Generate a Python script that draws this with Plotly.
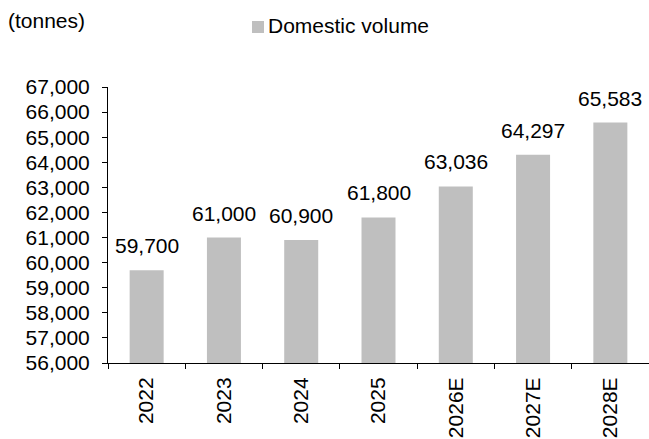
import plotly.graph_objects as go

categories = ["2022", "2023", "2024", "2025", "2026E", "2027E", "2028E"]
values = [59700, 61000, 60900, 61800, 63036, 64297, 65583]
labels = ["59,700", "61,000", "60,900", "61,800", "63,036", "64,297", "65,583"]
series_name = "Domestic volume"
unit_label = "(tonnes)"

FONT = "Liberation Sans, Arial, sans-serif"
FS = 21
BAR_COLOR = "#bfbfbf"

fig = go.Figure()
fig.add_trace(go.Bar(
    x=categories, y=values, name=series_name,
    marker=dict(color=BAR_COLOR, line=dict(width=0)),
    showlegend=False,
))

# data labels: placed at each category index (category axis positions)
annotations = [
    dict(x=i, y=v, text=t, xref="x", yref="y", xanchor="center", yanchor="bottom",
         yshift=11, showarrow=False, font=dict(size=FS, color="black", family=FONT))
    for i, (v, t) in enumerate(zip(values, labels))
]

# plot area: x 108..649, y 87..363
def px(xp):
    return (xp - 108) / 541.0

def py(yp):
    return (363 - yp) / 276.0

annotations.append(dict(text=unit_label, xref="paper", yref="paper", x=px(6), y=py(20),
                        xanchor="left", yanchor="middle", showarrow=False,
                        font=dict(size=FS, family=FONT, color="black")))
annotations.append(dict(text=series_name, xref="paper", yref="paper", x=px(266), y=py(26),
                        xanchor="left", yanchor="middle", showarrow=False,
                        font=dict(size=FS, family=FONT, color="black")))

fig.update_layout(
    width=649, height=439,
    margin=dict(l=108, r=0, t=87, b=76),
    paper_bgcolor="white", plot_bgcolor="white",
    font=dict(family=FONT, size=FS, color="black"),
    bargap=0.56,
    showlegend=False,
    xaxis=dict(type="category", categoryorder="array", categoryarray=categories,
               range=[-0.5, len(categories) - 0.5],
               showline=True, linecolor="black", linewidth=1, ticks="outside",
               ticklen=5, tickcolor="black", tickson="boundaries", tickangle=-90,
               tickfont=dict(size=FS), showgrid=False, ticklabelstandoff=5),
    yaxis=dict(range=[56000, 67000], dtick=1000, tickformat=",d", showline=True, linecolor="black",
               linewidth=1, ticks="outside", ticklen=5, tickcolor="black", showgrid=False,
               zeroline=False, tickfont=dict(size=FS), ticklabelstandoff=8),
    annotations=annotations,
    shapes=[dict(type="rect", xref="paper", yref="paper", x0=px(252), x1=px(264),
                 y0=py(33), y1=py(21), fillcolor=BAR_COLOR, line=dict(width=0))],
)

fig.write_html("out.html")
